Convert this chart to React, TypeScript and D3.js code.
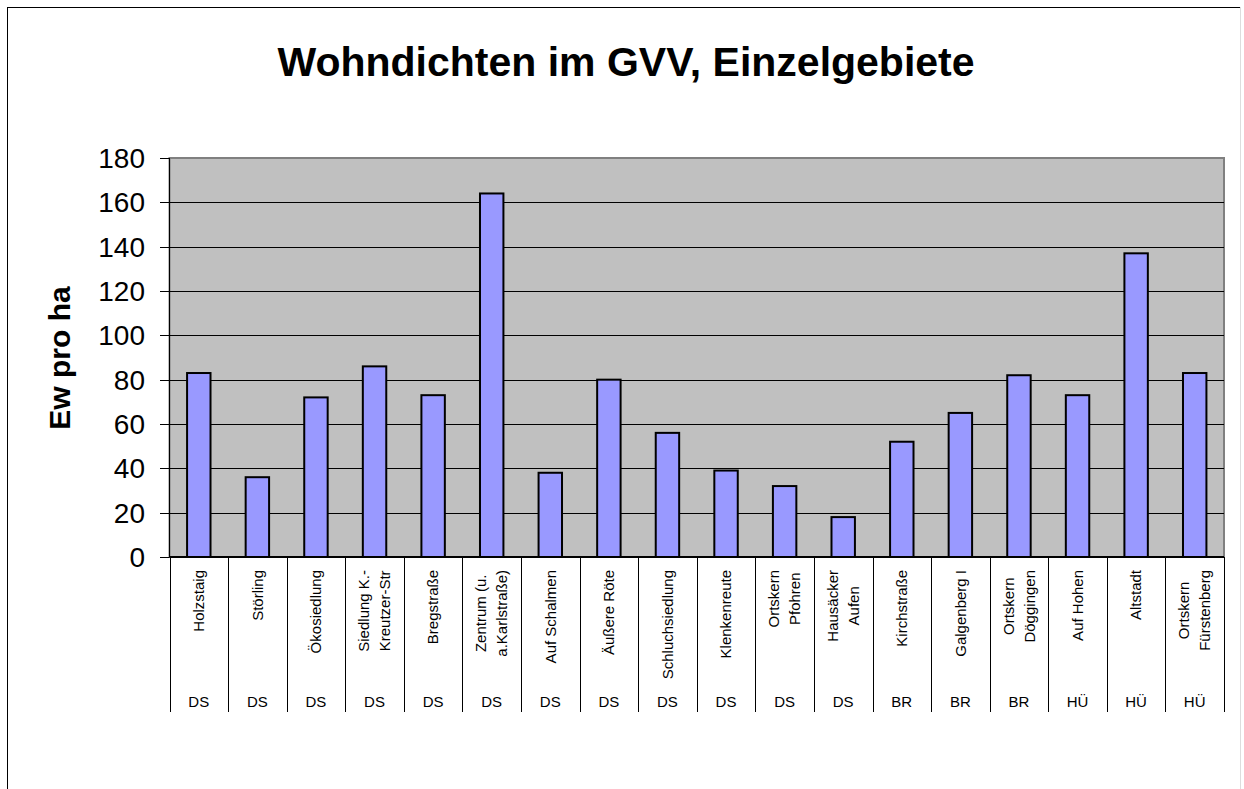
import { useMemo } from 'react';
import * as d3 from 'd3';

const areas = [
  ['Holzstaig'],
  ['Störling'],
  ['Ökosiedlung'],
  ['Siedlung K.-', 'Kreutzer-Str'],
  ['Bregstraße'],
  ['Zentrum (u.', 'a.Karlstraße)'],
  ['Auf Schalmen'],
  ['Äußere Röte'],
  ['Schluchsiedlung'],
  ['Klenkenreute'],
  ['Ortskern', 'Pfohren'],
  ['Hausäcker', 'Aufen'],
  ['Kirchstraße'],
  ['Galgenberg I'],
  ['Ortskern', 'Döggingen'],
  ['Auf Hohen'],
  ['Altstadt'],
  ['Ortskern', 'Fürstenberg'],
];
const towns = ['DS', 'DS', 'DS', 'DS', 'DS', 'DS', 'DS', 'DS', 'DS', 'DS', 'DS', 'DS', 'BR', 'BR', 'BR', 'HÜ', 'HÜ', 'HÜ'];
const density = [83, 36, 72, 86, 73, 164, 38, 80, 56, 39, 32, 18, 52, 65, 82, 73, 137, 83];
const yTicks = [0, 20, 40, 60, 80, 100, 120, 140, 160, 180];

const W = 1244;
const H = 789;
const FONT = '"Liberation Sans", Arial, sans-serif';
const plot = { left: 169.5, top: 158, right: 1224, bottom: 557 };

export default function App() {
  const x = d3
    .scaleBand<number>()
    .domain(density.map((_, i) => i))
    .range([plot.left, plot.right])
    .paddingInner(0.6)
    .paddingOuter(0.3);
  const y = d3.scaleLinear().domain([0, 180]).range([plot.bottom, plot.top]);
  const step = x.step();

  // width of the longest line of each label, for centring the lines
  const widths = useMemo(() => {
    const ctx = document.createElement('canvas').getContext('2d')!;
    ctx.font = `15px ${FONT}`;
    return areas.map((lines) => d3.max(lines, (l) => ctx.measureText(l).width) || 0);
  }, []);

  return (
    <svg width={W} height={H} style={{ position: 'absolute', left: 0, top: 0, background: '#fff' }} fontFamily={FONT}>
      <line x1={7.5} y1={7} x2={7.5} y2={H} stroke="#000" />
      <line x1={7} y1={7.5} x2={1240} y2={7.5} stroke="#000" />
      <line x1={1240.5} y1={7} x2={1240.5} y2={H} stroke="#ddd" />

      <text x={626} y={76} textAnchor="middle" fontSize={41} fontWeight="bold">
        Wohndichten im GVV, Einzelgebiete
      </text>

      <rect
        x={plot.left}
        y={plot.top}
        width={plot.right - plot.left}
        height={plot.bottom - plot.top}
        fill="#c0c0c0"
        stroke="#808080"
        strokeWidth={2}
      />
      {yTicks.slice(1, -1).map((t) => (
        <line key={t} x1={plot.left} x2={plot.right} y1={Math.round(y(t)) + 0.5} y2={Math.round(y(t)) + 0.5} stroke="#000" />
      ))}
      <line x1={plot.left} x2={plot.left} y1={plot.top} y2={plot.bottom} stroke="#000" />

      {yTicks.map((t) => (
        <g key={t}>
          <line x1={160} x2={plot.left} y1={Math.round(y(t)) + 0.5} y2={Math.round(y(t)) + 0.5} stroke="#000" />
          <text x={145} y={y(t)} dy="0.36em" textAnchor="end" fontSize={28}>
            {t}
          </text>
        </g>
      ))}
      <text transform={`translate(70,358) rotate(-90)`} textAnchor="middle" fontSize={30} fontWeight="bold">
        Ew pro ha
      </text>

      {density.map((v, i) => (
        <rect
          key={i}
          x={x(i)}
          y={y(v)}
          width={x.bandwidth()}
          height={plot.bottom - y(v)}
          fill="#9999ff"
          stroke="#000"
          strokeWidth={2}
        />
      ))}
      <line x1={plot.left} x2={plot.right} y1={plot.bottom} y2={plot.bottom} stroke="#000" strokeWidth={2} />

      {d3.range(density.length + 1).map((i) => {
        const sx = Math.round(plot.left + i * step) + 0.5;
        return <line key={i} x1={sx} x2={sx} y1={plot.bottom} y2={712} stroke="#000" />;
      })}

      {areas.map((lines, i) => {
        const cx = (x(i) || 0) + x.bandwidth() / 2;
        const cy = 570 + widths[i] / 2;
        return lines.map((l, j) => {
          const off = (j - (lines.length - 1) / 2) * 21;
          return (
            <text
              key={`${i}-${j}`}
              transform={`translate(${cx + off},${cy}) rotate(-90)`}
              dy="0.35em"
              textAnchor="middle"
              fontSize={15}
            >
              {l}
            </text>
          );
        });
      })}

      {towns.map((t, i) => (
        <text key={i} x={(x(i) || 0) + x.bandwidth() / 2} y={707} textAnchor="middle" fontSize={15}>
          {t}
        </text>
      ))}
    </svg>
  );
}
